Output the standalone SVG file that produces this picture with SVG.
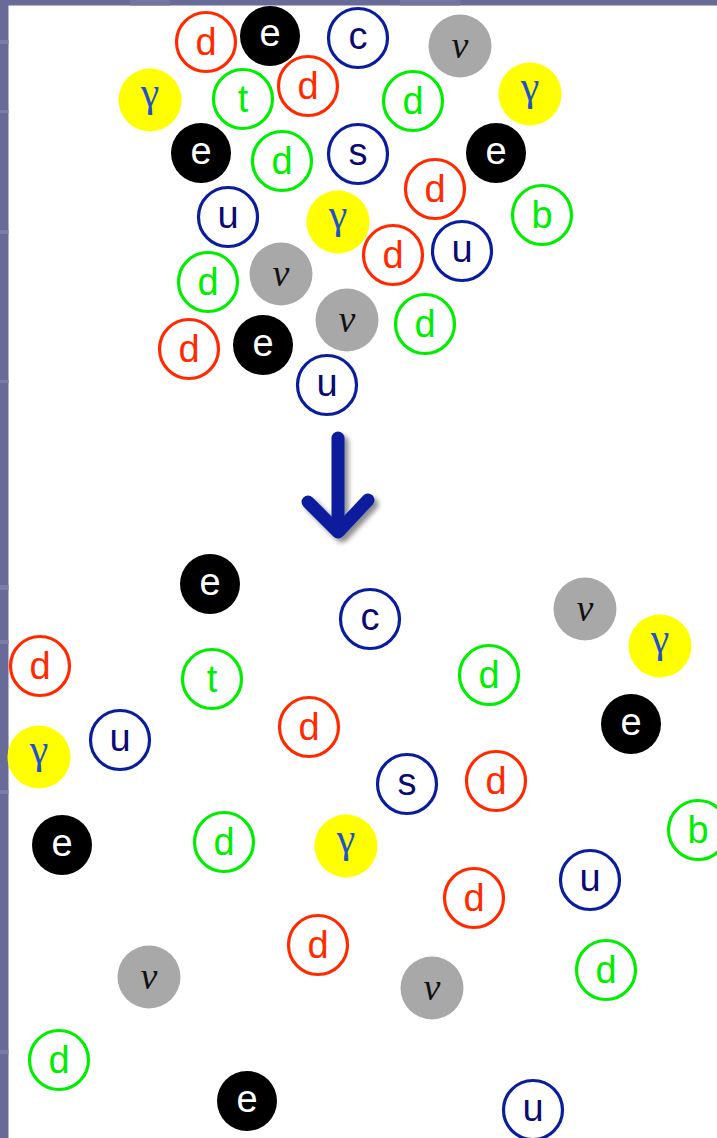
<svg xmlns="http://www.w3.org/2000/svg" width="717" height="1138" viewBox="0 0 717 1138">
<style>
.r{fill:none;stroke:#ff2a00;stroke-width:3.2}
.g{fill:none;stroke:#00ee00;stroke-width:3.2}
.b{fill:none;stroke:#0a1e9c;stroke-width:3.2}
.k{fill:#000}
.n{fill:#a8a8a8}
.y{fill:#ffff00}
text{font-family:"Liberation Sans",Arial,sans-serif;font-size:38px;text-anchor:middle}
.tr{fill:#ff2a00}
.tg{fill:#00ee00}
.tb{fill:#0a0a72}
.tk{fill:#fff}
.tn{font-family:"Liberation Serif","DejaVu Serif",serif;font-style:italic;font-size:38px;fill:#111}
.ty{font-family:"Liberation Serif","DejaVu Serif",serif;font-size:42px;fill:#1f52cc}
</style>
<defs>
<filter id="sh" x="-50%" y="-50%" width="200%" height="200%">
<feGaussianBlur in="SourceAlpha" stdDeviation="2.5"/>
<feOffset dx="4" dy="4" result="o"/>
<feComponentTransfer><feFuncA type="linear" slope="0.45"/></feComponentTransfer>
<feMerge><feMergeNode/><feMergeNode in="SourceGraphic"/></feMerge>
</filter>
</defs>
<rect width="717" height="1138" fill="#ffffff"/>
<g id="frame">
<rect x="0" y="0" width="717" height="5.5" fill="#686b97"/>
<rect x="0" y="0" width="8.5" height="1138" fill="#686b97"/>
<rect x="0" y="40" width="8.5" height="4" fill="#7a7da6"/>
<rect x="0" y="110" width="8.5" height="3" fill="#7a7da6"/>
<rect x="0" y="230" width="8.5" height="4" fill="#7a7da6"/>
<rect x="0" y="380" width="8.5" height="3" fill="#7a7da6"/>
<rect x="0" y="585" width="8.5" height="5" fill="#7a7da6"/>
<rect x="0" y="640" width="8.5" height="4" fill="#7a7da6"/>
<rect x="0" y="790" width="8.5" height="4" fill="#7a7da6"/>
<rect x="0" y="1050" width="8.5" height="4" fill="#7a7da6"/>
<rect x="130" y="0" width="40" height="5.5" fill="#72759f"/>
<rect x="400" y="0" width="60" height="5.5" fill="#72759f"/>
</g>
<g id="connectors">
<g filter="url(#sh)" stroke="#0a1e9c" stroke-width="13" stroke-linecap="round" stroke-linejoin="round" fill="none">
<line x1="338" y1="438" x2="338" y2="530"/>
<polyline points="308,502 338,532 368,500"/>
</g>
</g>
<!-- top cluster -->
<g id="t1"><circle class="r" cx="206" cy="42" r="29.5"/><text class="tr" x="206" y="55">d</text></g>
<g id="t2"><circle class="k" cx="270" cy="36" r="30"/><text class="tk" x="270" y="46">e</text></g>
<g id="t3"><circle class="b" cx="358" cy="38" r="29.5"/><text class="tb" x="358" y="49">c</text></g>
<g id="t4"><circle class="n" cx="460" cy="46" r="31.5"/><text class="tn" x="460" y="58">ν</text></g>
<g id="t5"><circle class="y" cx="150" cy="100" r="31.5"/><text class="ty" x="150" y="106">γ</text></g>
<g id="t6"><circle class="g" cx="243" cy="99" r="29.5"/><text class="tg" x="243" y="112">t</text></g>
<g id="t7"><circle class="r" cx="308" cy="86" r="29.5"/><text class="tr" x="308" y="99">d</text></g>
<g id="t8"><circle class="g" cx="413" cy="101" r="29.5"/><text class="tg" x="413" y="114">d</text></g>
<g id="t9"><circle class="y" cx="530" cy="94" r="31.5"/><text class="ty" x="530" y="100">γ</text></g>
<g id="t10"><circle class="k" cx="201" cy="153" r="30"/><text class="tk" x="201" y="164">e</text></g>
<g id="t11"><circle class="g" cx="282" cy="161" r="29.5"/><text class="tg" x="282" y="174">d</text></g>
<g id="t12"><circle class="b" cx="358" cy="154" r="29.5"/><text class="tb" x="358" y="165">s</text></g>
<g id="t13"><circle class="k" cx="496" cy="153" r="30"/><text class="tk" x="496" y="164">e</text></g>
<g id="t14"><circle class="r" cx="435" cy="189" r="29.5"/><text class="tr" x="435" y="202">d</text></g>
<g id="t15"><circle class="g" cx="542" cy="215" r="29.5"/><text class="tg" x="542" y="228">b</text></g>
<g id="t16"><circle class="b" cx="228" cy="217" r="29.5"/><text class="tb" x="228" y="228">u</text></g>
<g id="t17"><circle class="y" cx="338" cy="222" r="31.5"/><text class="ty" x="338" y="228">γ</text></g>
<g id="t18"><circle class="r" cx="393" cy="255" r="29.5"/><text class="tr" x="393" y="268">d</text></g>
<g id="t19"><circle class="b" cx="462" cy="251" r="29.5"/><text class="tb" x="462" y="262">u</text></g>
<g id="t20"><circle class="g" cx="208" cy="282" r="29.5"/><text class="tg" x="208" y="295">d</text></g>
<g id="t21"><circle class="n" cx="281" cy="274" r="31.5"/><text class="tn" x="281" y="286">ν</text></g>
<g id="t22"><circle class="n" cx="347" cy="320" r="31.5"/><text class="tn" x="347" y="332">ν</text></g>
<g id="t23"><circle class="g" cx="425" cy="324" r="29.5"/><text class="tg" x="425" y="337">d</text></g>
<g id="t24"><circle class="r" cx="189" cy="349" r="29.5"/><text class="tr" x="189" y="362">d</text></g>
<g id="t25"><circle class="k" cx="263" cy="345" r="30"/><text class="tk" x="263" y="356">e</text></g>
<g id="t26"><circle class="b" cx="327" cy="385" r="29.5"/><text class="tb" x="327" y="396">u</text></g>
<!-- bottom scattered -->
<g id="b1"><circle class="k" cx="210" cy="584" r="30"/><text class="tk" x="210" y="595">e</text></g>
<g id="b2"><circle class="b" cx="370" cy="619" r="29.5"/><text class="tb" x="370" y="630">c</text></g>
<g id="b3"><circle class="n" cx="585" cy="609" r="31.5"/><text class="tn" x="585" y="621">ν</text></g>
<g id="b4"><circle class="y" cx="660" cy="646" r="31.5"/><text class="ty" x="660" y="652">γ</text></g>
<g id="b5"><circle class="r" cx="40" cy="666" r="29.5"/><text class="tr" x="40" y="679">d</text></g>
<g id="b6"><circle class="g" cx="212" cy="679" r="29.5"/><text class="tg" x="212" y="692">t</text></g>
<g id="b7"><circle class="g" cx="489" cy="675" r="29.5"/><text class="tg" x="489" y="688">d</text></g>
<g id="b8"><circle class="k" cx="631" cy="724" r="30"/><text class="tk" x="631" y="735">e</text></g>
<g id="b9"><circle class="r" cx="309" cy="727" r="29.5"/><text class="tr" x="309" y="740">d</text></g>
<g id="b10"><circle class="b" cx="120" cy="740" r="29.5"/><text class="tb" x="120" y="751">u</text></g>
<g id="b11"><circle class="y" cx="39" cy="757" r="31.5"/><text class="ty" x="39" y="763">γ</text></g>
<g id="b12"><circle class="b" cx="407" cy="784" r="29.5"/><text class="tb" x="407" y="795">s</text></g>
<g id="b13"><circle class="r" cx="496" cy="781" r="29.5"/><text class="tr" x="496" y="794">d</text></g>
<g id="b14"><circle class="k" cx="62" cy="845" r="30"/><text class="tk" x="62" y="856">e</text></g>
<g id="b15"><circle class="g" cx="224" cy="842" r="29.5"/><text class="tg" x="224" y="855">d</text></g>
<g id="b16"><circle class="y" cx="346" cy="846" r="31.5"/><text class="ty" x="346" y="852">γ</text></g>
<g id="b17"><circle class="g" cx="698" cy="830" r="29.5"/><text class="tg" x="698" y="843">b</text></g>
<g id="b18"><circle class="b" cx="590" cy="880" r="29.5"/><text class="tb" x="590" y="891">u</text></g>
<g id="b19"><circle class="r" cx="474" cy="898" r="29.5"/><text class="tr" x="474" y="911">d</text></g>
<g id="b20"><circle class="r" cx="318" cy="945" r="29.5"/><text class="tr" x="318" y="958">d</text></g>
<g id="b21"><circle class="g" cx="606" cy="970" r="29.5"/><text class="tg" x="606" y="983">d</text></g>
<g id="b22"><circle class="n" cx="149" cy="977" r="31.5"/><text class="tn" x="149" y="989">ν</text></g>
<g id="b23"><circle class="n" cx="432" cy="988" r="31.5"/><text class="tn" x="432" y="1000">ν</text></g>
<g id="b24"><circle class="g" cx="59" cy="1060" r="29.5"/><text class="tg" x="59" y="1073">d</text></g>
<g id="b25"><circle class="k" cx="247" cy="1101" r="30"/><text class="tk" x="247" y="1112">e</text></g>
<g id="b26"><circle class="b" cx="533" cy="1110" r="29.5"/><text class="tb" x="533" y="1121">u</text></g>
</svg>
